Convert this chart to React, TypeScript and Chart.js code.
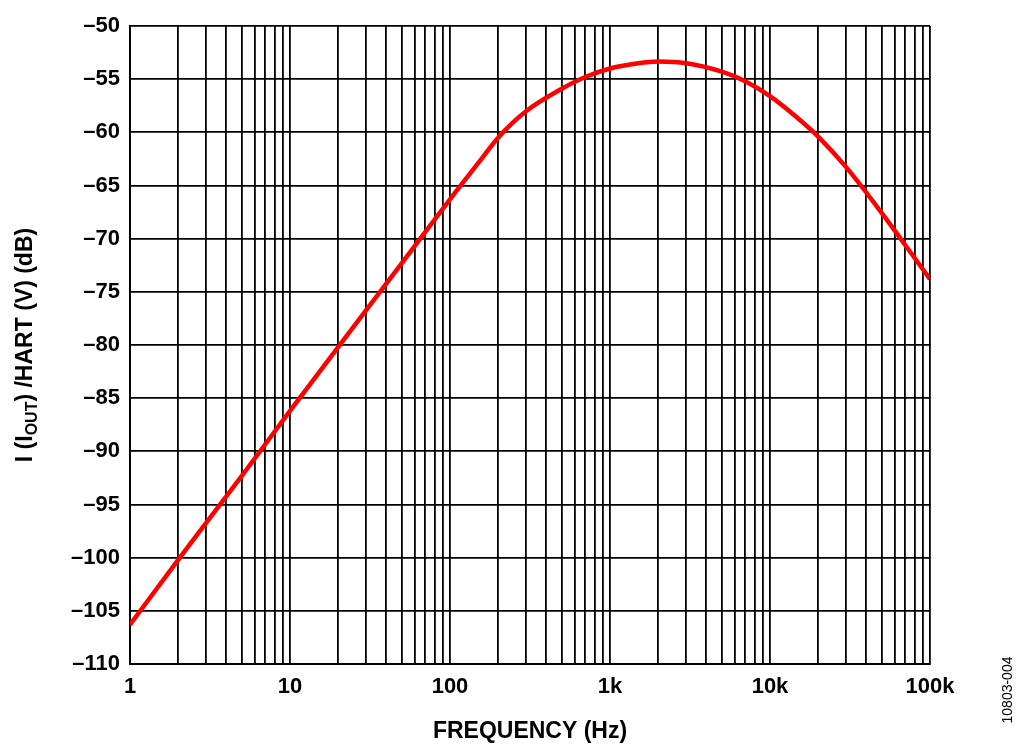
import React, { useEffect, useRef } from "react";
import { Chart, registerables } from "chart.js";
Chart.register(...registerables);

const freqHz = [1, 2, 3, 5, 10, 20, 30, 50, 100, 150, 200, 300, 500, 700, 1000, 1500, 2000, 3000, 5000, 7000, 10000, 15000, 20000, 30000, 50000, 70000, 100000];
const gainDb = [-106.3, -100.2, -96.7, -92.3, -86.2, -80.2, -76.7, -72.3, -66.3, -62.9, -60.5, -58.0, -55.9, -54.8, -54.0, -53.5, -53.35, -53.5, -54.3, -55.2, -56.6, -58.7, -60.4, -63.3, -67.6, -70.6, -73.8];
const xDecadeLabels: Record<number, string> = { 1: "1", 10: "10", 100: "100", 1000: "1k", 10000: "10k", 100000: "100k" };

const FONT = "'Liberation Sans', Arial, sans-serif";

export default function App() {
  const ref = useRef<HTMLCanvasElement>(null);
  useEffect(() => {
    document.body.style.margin = "0";
    const textPlugin = {
      id: "texts",
      afterDraw(chart: any) {
        const ctx = chart.ctx;
        const a = chart.chartArea;
        ctx.save();
        ctx.fillStyle = "#000";
        ctx.font = `bold 23px ${FONT}`;
        ctx.textAlign = "center";
        ctx.textBaseline = "alphabetic";
        ctx.fillText("FREQUENCY (Hz)", (a.left + a.right) / 2, 738);
        ctx.translate(32, (a.top + a.bottom) / 2);
        ctx.rotate(-Math.PI / 2);
        const parts: [string, boolean][] = [["I (I", false], ["OUT", true], [") /HART (V) (dB)", false]];
        const big = `bold 23px ${FONT}`, small = `bold 16px ${FONT}`;
        let w = 0;
        for (const [t, s] of parts) { ctx.font = s ? small : big; w += ctx.measureText(t).width; }
        let x = -w / 2;
        ctx.textAlign = "left";
        for (const [t, s] of parts) {
          ctx.font = s ? small : big;
          ctx.fillText(t, x, s ? 5 : 0);
          x += ctx.measureText(t).width;
        }
        ctx.restore();
        ctx.save();
        ctx.font = `14px ${FONT}`;
        ctx.fillStyle = "#000";
        ctx.translate(1012, 690);
        ctx.rotate(-Math.PI / 2);
        ctx.textAlign = "center";
        ctx.fillText("10803-004", 0, 0);
        ctx.restore();
      },
    };
    const chart = new Chart(ref.current!, {
      type: "line",
      data: {
        datasets: [{
          data: freqHz.map((f, i) => ({ x: f, y: gainDb[i] })),
          borderColor: "#ff0000",
          borderWidth: 4.5,
          pointRadius: 0,
          cubicInterpolationMode: "monotone",
        }],
      },
      options: {
        animation: false,
        responsive: false,
        layout: { padding: { top: 26, right: 94, left: 0, bottom: 0 } },
        plugins: { legend: { display: false }, tooltip: { enabled: false } },
        scales: {
          x: {
            type: "logarithmic",
            min: 1,
            max: 100000,
            afterFit: (s: any) => { s.height = 91; },
            afterBuildTicks: (s: any) => {
              const t: any[] = [];
              for (let d = 1; d < 100000; d *= 10) for (let m = 1; m < 10; m++) t.push({ value: d * m });
              t.push({ value: 100000 });
              s.ticks = t;
            },
            grid: { color: "#000", lineWidth: 1.8, drawTicks: false },
            border: { color: "#000", width: 2 },
            ticks: {
              autoSkip: false,
              maxRotation: 0,
              padding: 10,
              color: "#000",
              font: { family: FONT, size: 22, weight: "bold" },
              callback: (v: any) => xDecadeLabels[Number(v)] ?? "",
            },
          },
          y: {
            min: -110,
            max: -50,
            afterFit: (s: any) => { s.width = 130; },
            grid: { color: "#000", lineWidth: 1.8, drawTicks: false },
            border: { color: "#000", width: 2 },
            ticks: {
              stepSize: 5,
              padding: 10,
              color: "#000",
              font: { family: FONT, size: 22, weight: "bold" },
              callback: (v: any) => (Number(v) < 0 ? "\u2013" + Math.abs(Number(v)) : String(v)),
            },
          },
        },
      },
      plugins: [textPlugin],
    } as any);
    return () => chart.destroy();
  }, []);
  return <canvas ref={ref} width={1024} height={755} style={{ display: "block" }} />;
}
